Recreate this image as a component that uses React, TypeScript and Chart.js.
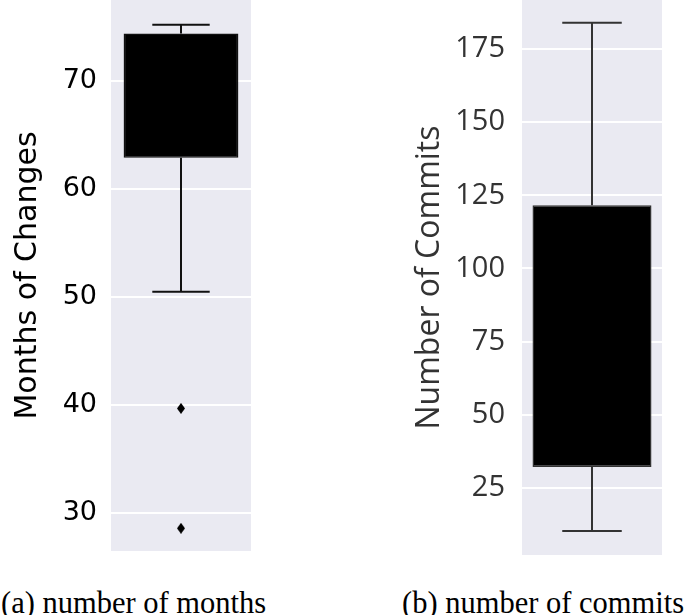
import React, { useEffect, useRef } from 'react';
import { Chart, registerables } from 'chart.js';

Chart.register(...registerables);

// ---- data: (a) number of months ----
const monthsCategories = ['months'];
const monthsWhiskers = [50.5, 75.2]; // [lower whisker, upper whisker]
const monthsBox = [62.9, 74.4]; // [Q1, Q3]
const monthsOutliers = [39.7, 28.6];
const monthsTicks = [30, 40, 50, 60, 70];

// ---- data: (b) number of commits ----
const commitsCategories = ['commits'];
const commitsWhiskers = [10.3, 183.9];
const commitsBox = [32.2, 121.6];
const commitsOutliers: number[] = [];
const commitsTicks = [25, 50, 75, 100, 125, 150, 175];

function makeDiamond(w: number, h: number, color: string) {
  const c = document.createElement('canvas');
  c.width = w;
  c.height = h;
  const ctx = c.getContext('2d')!;
  ctx.fillStyle = color;
  ctx.beginPath();
  ctx.moveTo(w / 2, 0);
  ctx.lineTo(w, h / 2);
  ctx.lineTo(w / 2, h);
  ctx.lineTo(0, h / 2);
  ctx.closePath();
  ctx.fill();
  return c;
}

const bgPlugin = {
  id: 'panelBg',
  beforeDraw(chart: any, _args: any, opts: any) {
    const { ctx, chartArea: a } = chart;
    ctx.save();
    ctx.fillStyle = opts.color || '#EAEAF2';
    ctx.fillRect(a.left, a.top, a.right - a.left, a.bottom - a.top);
    ctx.restore();
  },
};

const whiskerPlugin = {
  id: 'whiskers',
  afterDatasetsDraw(chart: any, _args: any, opts: any) {
    const meta = chart.getDatasetMeta(0);
    const bar = meta.data[0];
    if (!bar) return;
    const y = chart.scales.y;
    const { ctx } = chart;
    const [low, high] = opts.whiskers;
    const [q1, q3] = opts.box;
    const x = bar.x;
    const capHalf = bar.width * 0.25;
    ctx.save();
    ctx.strokeStyle = opts.color;
    ctx.lineWidth = opts.width;
    ctx.beginPath();
    ctx.moveTo(x, y.getPixelForValue(q3));
    ctx.lineTo(x, y.getPixelForValue(high));
    ctx.moveTo(x - capHalf, y.getPixelForValue(high));
    ctx.lineTo(x + capHalf, y.getPixelForValue(high));
    ctx.moveTo(x, y.getPixelForValue(q1));
    ctx.lineTo(x, y.getPixelForValue(low));
    ctx.moveTo(x - capHalf, y.getPixelForValue(low));
    ctx.lineTo(x + capHalf, y.getPixelForValue(low));
    ctx.stroke();
    ctx.restore();
  },
};

type PanelProps = {
  left: number;
  width: number;
  height: number;
  categories: string[];
  whiskers: number[];
  box: number[];
  outliers: number[];
  ticks: number[];
  yMin: number;
  yMax: number;
  axisWidth: number;
  padRight: number;
  padBottom: number;
  title: string;
  tickFont: any;
  titleFont: any;
  textColor: string;
  tickPadding: number;
  titlePadding: number;
  lineColor: string;
  barPct: number;
};

function BoxPanel(p: PanelProps) {
  const ref = useRef<HTMLCanvasElement>(null);
  useEffect(() => {
    if (!ref.current) return;
    const diamond = makeDiamond(8, 11, '#000');
    const chart = new Chart(ref.current, {
      type: 'bar',
      data: {
        labels: p.categories,
        datasets: [
          {
            data: [p.box as any],
            backgroundColor: '#000',
            borderColor: p.lineColor,
            borderWidth: 1.5,
            borderSkipped: false,
            barPercentage: p.barPct,
            categoryPercentage: 1,
          } as any,
          {
            type: 'line',
            data: p.outliers.map((v) => ({ x: p.categories[0], y: v })),
            showLine: false,
            pointStyle: diamond,
            pointRadius: 5,
          } as any,
        ],
      },
      options: {
        responsive: false,
        animation: false,
        events: [],
        layout: { autoPadding: false, padding: { top: 0, left: 0, right: p.padRight, bottom: p.padBottom } },
        plugins: {
          legend: { display: false },
          tooltip: { enabled: false },
          panelBg: { color: '#EAEAF2' },
          whiskers: { whiskers: p.whiskers, box: p.box, color: p.lineColor, width: 2 },
        } as any,
        scales: {
          x: { display: false },
          y: {
            min: p.yMin,
            max: p.yMax,
            afterBuildTicks: (scale: any) => {
              scale.ticks = p.ticks.map((v) => ({ value: v }));
            },
            afterFit: (scale: any) => {
              scale.width = p.axisWidth;
              scale.paddingTop = 0;
              scale.paddingBottom = 0;
            },
            grid: { color: '#FFFFFF', lineWidth: 2, drawTicks: false },
            border: { display: false },
            ticks: { font: p.tickFont, color: p.textColor, padding: p.tickPadding },
            title: {
              display: true,
              text: p.title,
              font: p.titleFont,
              color: p.textColor,
              padding: { top: p.titlePadding, bottom: 0 },
            },
          },
        },
      },
      plugins: [bgPlugin, whiskerPlugin],
    });
    return () => chart.destroy();
  }, []);
  return (
    <canvas
      ref={ref}
      width={p.width}
      height={p.height}
      style={{ position: 'absolute', left: p.left, top: 0, width: p.width, height: p.height, display: 'block' }}
    />
  );
}

export default function App() {
  const captionStyle: React.CSSProperties = {
    position: 'absolute',
    top: 588,
    fontFamily: '"Liberation Serif", "Times New Roman", serif',
    fontSize: 30.5,
    lineHeight: '30px',
    color: '#000',
    whiteSpace: 'nowrap',
  };
  return (
    <div style={{ position: 'absolute', left: 0, top: 0, width: 685, height: 615, background: '#fff', overflow: 'hidden' }}>
      <BoxPanel
        left={0}
        width={260}
        height={560}
        categories={monthsCategories}
        whiskers={monthsWhiskers}
        box={monthsBox}
        outliers={monthsOutliers}
        ticks={monthsTicks}
        yMin={26.5}
        yMax={77.5}
        axisWidth={111}
        padRight={9}
        padBottom={9}
        title="Months of Changes"
        tickFont={{ family: '"DejaVu Sans"', size: 27 }}
        titleFont={{ family: '"DejaVu Sans"', size: 30 }}
        textColor="#000"
        tickPadding={14}
        titlePadding={10}
        lineColor="#111"
        barPct={0.82}
      />
      <BoxPanel
        left={380}
        width={290}
        height={565}
        categories={commitsCategories}
        whiskers={commitsWhiskers}
        box={commitsBox}
        outliers={commitsOutliers}
        ticks={commitsTicks}
        yMin={2.1}
        yMax={191.7}
        axisWidth={142}
        padRight={8}
        padBottom={10}
        title="Number of Commits"
        tickFont={{ family: '"Open Sans"', size: 29 }}
        titleFont={{ family: '"Open Sans"', size: 32 }}
        textColor="#333"
        tickPadding={17}
        titlePadding={31}
        lineColor="#333"
        barPct={0.85}
      />
      <div style={{ ...captionStyle, left: 1 }}>(a) number of months</div>
      <div style={{ ...captionStyle, left: 402 }}>(b) number of commits</div>
    </div>
  );
}
